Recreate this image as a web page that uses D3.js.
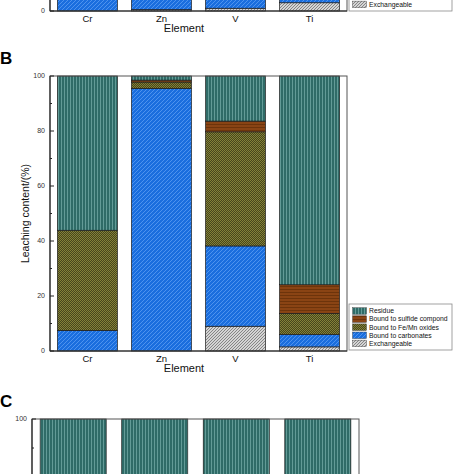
<!DOCTYPE html>
<html><head><meta charset="utf-8">
<script src="https://cdn.jsdelivr.net/npm/d3@7"></script>
<style>html,body{margin:0;padding:0;background:#fff;}svg{display:block;font-family:"Liberation Sans",Arial,sans-serif;}</style>
</head><body>
<svg id="chart" width="474" height="474"></svg>
<script>
const elements = ["Cr", "Zn", "V", "Ti"];
const fractions = ["Exchangeable", "Bound to carbonates", "Bound to Fe/Mn oxides", "Bound to sulfide compond", "Residue"];
const fracKeys = ["exch", "carb", "femn", "sulf", "resi"];
// Panel A (only its bottom is visible)
const exchA = [0, 0.5, 1, 3];
const carbA = [30, 40, 35, 5];
const femnA = [30, 20, 30, 10];
const sulfA = [5, 5, 5, 10];
const resiA = [35, 34.5, 29, 72];
// Panel B
const exchB = [0, 0, 9, 1.5];
const carbB = [7.5, 95.5, 29.2, 4.5];
const femnB = [36.4, 2.3, 41.5, 7.7];
const sulfB = [0, 0.7, 3.9, 10.4];
const resiB = [56.1, 1.5, 16.4, 75.9];
// Panel C (only its top is visible)
const exchC = [0, 0, 0, 0];
const carbC = [0, 0, 0, 0];
const femnC = [0, 0, 0, 0];
const sulfC = [0, 0, 0, 0];
const resiC = [100, 100, 100, 100];
const yTicks = [0, 20, 40, 60, 80, 100];
const yMinor = [10, 30, 50, 70, 90];

const W = 474, H = 474;
const inView = (yy, m) => yy - m >= 0 && yy + m <= H;

function table(e, c, f, s, r) {
  return elements.map((el, i) => ({el, exch: e[i], carb: c[i], femn: f[i], sulf: s[i], resi: r[i]}));
}

const svg = d3.select("#chart");
svg.append("rect").attr("width", W).attr("height", H).attr("fill", "#fff");
const defs = svg.append("defs");
function pat(id, w, h, bg, draw) {
  const p = defs.append("pattern").attr("id", id).attr("patternUnits", "userSpaceOnUse")
    .attr("width", w).attr("height", h);
  p.append("rect").attr("width", w).attr("height", h).attr("fill", bg);
  draw(p);
}
pat("p-resi", 3, 3, "#2f6b67", p => p.append("rect").attr("x", 1).attr("width", 0.9).attr("height", 3).attr("fill", "#69a19d"));
pat("p-sulf", 3, 3, "#8a4414", p => p.append("rect").attr("y", 1).attr("width", 3).attr("height", 0.9).attr("fill", "#6a3209"));
pat("p-femn", 2, 2, "#47461c", p => { p.append("rect").attr("width", 1).attr("height", 1).attr("fill", "#848138"); p.append("rect").attr("x", 1).attr("y", 1).attr("width", 1).attr("height", 1).attr("fill", "#848138"); });
pat("p-carb", 4, 4, "#1a6ede", p => p.append("path").attr("d", "M-1,5 L5,-1 M-1,1 L1,-1 M3,5 L5,3").attr("stroke", "#5397ef").attr("stroke-width", 0.9));
pat("p-exch", 3, 3, "#d4d4d4", p => p.append("path").attr("d", "M-1,4 L4,-1 M-1,1 L1,-1 M2,4 L4,2").attr("stroke", "#717171").attr("stroke-width", 0.8));

const fill = k => `url(#p-${k})`;

function drawPanel(data, cfg) {
  const g = svg.append("g");
  const x = d3.scaleBand().domain(elements).range([cfg.x0, cfg.x1]).paddingInner(0.19).paddingOuter(0.1);
  const y = d3.scaleLinear().domain([0, 100]).range([cfg.yb, cfg.yt]);
  const stack = d3.stack().keys(fracKeys)(data);
  stack.forEach(layer => {
    g.selectAll(null).data(layer.filter(d => d[1] - d[0] > 0)).enter().append("rect")
      .attr("x", d => x(d.data.el)).attr("width", x.bandwidth())
      .attr("y", d => y(d[1])).attr("height", d => y(d[0]) - y(d[1]))
      .attr("fill", fill(layer.key)).attr("stroke", "#1d1d1d").attr("stroke-width", 0.7);
  });
  g.append("rect").attr("x", cfg.x0).attr("y", cfg.yt).attr("width", cfg.x1 - cfg.x0).attr("height", cfg.yb - cfg.yt)
    .attr("fill", "none").attr("stroke", "#555").attr("stroke-width", 1);
  g.append("line").attr("x1", cfg.x0).attr("x2", cfg.x0).attr("y1", cfg.yt).attr("y2", cfg.yb).attr("stroke", "#222").attr("stroke-width", 1.1);
  g.append("line").attr("x1", cfg.x0).attr("x2", cfg.x1).attr("y1", cfg.yb).attr("y2", cfg.yb).attr("stroke", "#222").attr("stroke-width", 1.1);
  yTicks.forEach(t => {
    g.append("line").attr("x1", cfg.x0).attr("x2", cfg.x0 + 4).attr("y1", y(t)).attr("y2", y(t)).attr("stroke", "#222");
    if (inView(y(t), 4)) {
      g.append("text").attr("x", cfg.x0 - 5).attr("y", y(t)).attr("dy", "0.35em").attr("text-anchor", "end")
        .attr("font-size", 7).attr("fill", "#333").text(t);
    }
  });
  yMinor.forEach(t => {
    g.append("line").attr("x1", cfg.x0).attr("x2", cfg.x0 + 2).attr("y1", y(t)).attr("y2", y(t)).attr("stroke", "#222");
  });
  if (inView(cfg.yb + 21, 9)) {
    elements.forEach(el => {
      g.append("text").attr("x", x(el) + x.bandwidth() / 2).attr("y", cfg.yb + 11).attr("text-anchor", "middle")
        .attr("font-size", 9.5).attr("fill", "#111").text(el);
    });
    g.append("text").attr("x", 184).attr("y", cfg.yb + 21).attr("text-anchor", "middle")
      .attr("font-size", 11).attr("fill", "#111").text("Element");
  }
  if (cfg.ylabel) {
    g.append("text").attr("transform", `translate(29,${(cfg.yb + cfg.yt) / 2}) rotate(-90)`)
      .attr("text-anchor", "middle").attr("font-size", 10.5).attr("fill", "#111").text("Leaching content/(%)");
  }
  if (cfg.legendTop !== undefined) {
    const lg = g.append("g");
    const top = cfg.legendTop;
    lg.append("rect").attr("x", 349).attr("y", top).attr("width", 103).attr("height", 46)
      .attr("fill", "#fff").attr("stroke", "#8a8a8a").attr("stroke-width", 0.8);
    const order = fracKeys.slice().reverse();
    const names = fractions.slice().reverse();
    order.forEach((k, i) => {
      const cy = top + 7 + i * 8.1;
      lg.append("rect").attr("x", 352.5).attr("y", cy - 3.3).attr("width", 14).attr("height", 6.6)
        .attr("fill", fill(k)).attr("stroke", "#333").attr("stroke-width", 0.4);
      if (inView(cy, 3.5)) {
        lg.append("text").attr("x", 369).attr("y", cy).attr("dy", "0.35em").attr("font-size", 6.8)
          .attr("fill", "#111").text(names[i]);
      }
    });
  }
  if (cfg.title) {
    g.append("text").attr("x", 0).attr("y", cfg.titleY).attr("font-size", 17).attr("font-weight", "bold")
      .attr("fill", "#000").text(cfg.title);
  }
}

drawPanel(table(exchA, carbA, femnA, sulfA, resiA), {x0: 50, x1: 347, yb: 11, yt: -264, legendTop: -35});
drawPanel(table(exchB, carbB, femnB, sulfB, resiB), {x0: 50, x1: 347, yb: 351, yt: 76, ylabel: true, legendTop: 304, title: "B", titleY: 64});
drawPanel(table(exchC, carbC, femnC, sulfC, resiC), {x0: 32, x1: 359, yb: 709, yt: 419, title: "C", titleY: 407});
</script>
</body></html>
